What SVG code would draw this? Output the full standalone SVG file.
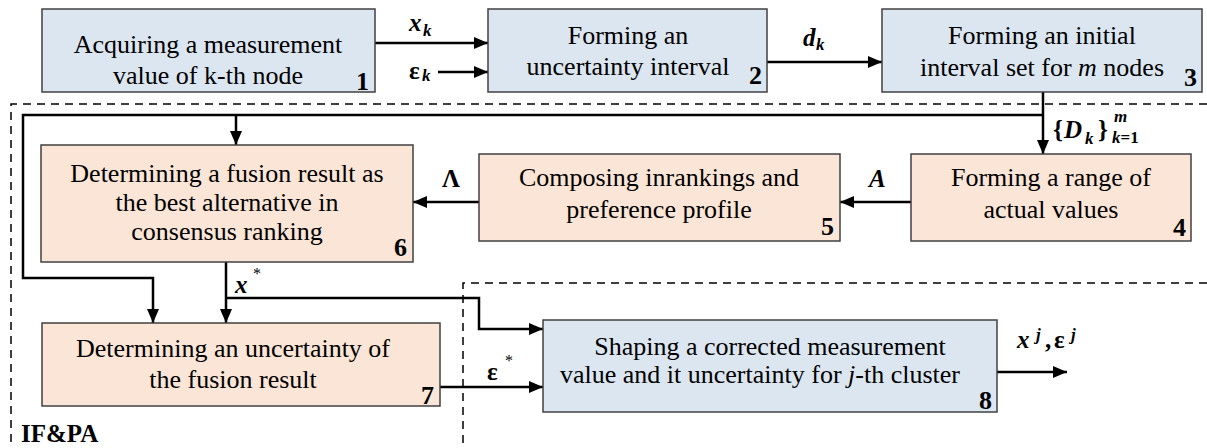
<svg xmlns="http://www.w3.org/2000/svg" width="1207" height="448" viewBox="0 0 1207 448">
<defs>
<style>
text{font-family:'Liberation Serif','Times New Roman','DejaVu Serif',serif}
.blue{fill:#dce6f1;stroke:#404040;stroke-width:1.5}
.orange{fill:#fbe5d6;stroke:#404040;stroke-width:1.5}
.t{font-size:26px;fill:#000;text-anchor:middle}
.n{font-size:26px;font-weight:bold;fill:#000;text-anchor:end}
.lb{font-size:25px;font-weight:bold;fill:#000}
.s{font-size:17px;font-weight:bold;fill:#000}
.it{font-style:italic}
.c{fill:none;stroke:#000;stroke-width:2.5}
.d{fill:none;stroke:#000;stroke-width:1.5;stroke-dasharray:8 6}
</style>
<marker id="ah" viewBox="0 0 14 12" refX="14" refY="6" markerWidth="14" markerHeight="12" markerUnits="userSpaceOnUse" orient="auto">
<path d="M0,0 L14,6 L0,12 Z" fill="#000"/>
</marker>
</defs>
<g id="regions">
<path class="d" d="M1207,104 H11 V448"/>
<path class="d" d="M1207,283 H463 V448"/>
</g>
<g id="connectors">
<path class="c" d="M375,43 H488" marker-end="url(#ah)"/>
<path class="c" d="M438,72 H488" marker-end="url(#ah)"/>
<path class="c" d="M767,62 H882" marker-end="url(#ah)"/>
<path class="c" d="M1043,92 V154" marker-end="url(#ah)"/>
<path class="c" d="M1043,115 H23 V278 H153 V323" marker-end="url(#ah)"/>
<path class="c" d="M236,115 V145" marker-end="url(#ah)"/>
<path class="c" d="M911,202 H840" marker-end="url(#ah)"/>
<path class="c" d="M479,202 H413" marker-end="url(#ah)"/>
<path class="c" d="M226,262 V323" marker-end="url(#ah)"/>
<path class="c" d="M226,298 H479 V329 H543" marker-end="url(#ah)"/>
<path class="c" d="M440,387 H543" marker-end="url(#ah)"/>
<path class="c" d="M997,372 H1067" marker-end="url(#ah)"/>
<text class="lb it" x="409" y="31">x</text><text class="s it" x="423" y="36">k</text>
<text class="lb" x="409" y="79">ε</text><text class="s it" x="422" y="81">k</text>
<text class="lb it" x="803" y="46">d</text><text class="s it" x="816" y="50">k</text>
<text class="lb" x="1053" y="138">{</text>
<text class="lb it" x="1064" y="138" font-size="27">D</text>
<text class="s it" x="1085" y="144">k</text>
<text class="lb" x="1098" y="138">}</text>
<text class="s it" x="1114" y="122">m</text>
<text class="s" x="1112" y="143"><tspan class="it">k</tspan>=1</text>
<text class="lb" x="442" y="187">Λ</text>
<text class="lb it" x="869" y="187">A</text>
<text class="lb it" x="235" y="293">x</text>
<text x="253" y="279" font-size="16" fill="#000">*</text>
<text class="lb" x="487" y="380">ε</text>
<text x="505" y="366" font-size="16" fill="#000">*</text>
<text class="lb it" x="1017" y="348">x</text>
<text class="s it" x="1036" y="340">j</text>
<text class="lb" x="1045" y="348">,</text>
<text class="lb" x="1054" y="348">ε</text>
<text class="s it" x="1071" y="340">j</text>
</g>
<g id="node1">
<rect class="blue" x="42" y="9" width="333" height="83"/>
<text class="t" x="208" y="53">Acquiring a measurement</text>
<text class="t" x="208" y="84">value of k-th node</text>
<text class="n" x="369" y="90">1</text>
</g>
<g id="node2">
<rect class="blue" x="488" y="9" width="279" height="83"/>
<text class="t" x="628" y="44">Forming an</text>
<text class="t" x="628" y="75">uncertainty interval</text>
<text class="n" x="762" y="84">2</text>
</g>
<g id="node3">
<rect class="blue" x="882" y="9" width="320" height="83"/>
<text class="t" x="1042" y="44">Forming an initial</text>
<text class="t" x="1042" y="76">interval set for <tspan font-style="italic">m</tspan> nodes</text>
<text class="n" x="1197" y="86">3</text>
</g>
<g id="node4">
<rect class="orange" x="911" y="154" width="280" height="87"/>
<text class="t" x="1051" y="186">Forming a range of</text>
<text class="t" x="1051" y="218">actual values</text>
<text class="n" x="1186" y="236">4</text>
</g>
<g id="node5">
<rect class="orange" x="479" y="154" width="361" height="87"/>
<text class="t" x="659" y="186">Composing inrankings and</text>
<text class="t" x="659" y="218">preference profile</text>
<text class="n" x="834" y="235">5</text>
</g>
<g id="node6">
<rect class="orange" x="41" y="145" width="372" height="117"/>
<text class="t" x="227" y="182">Determining a fusion result as</text>
<text class="t" x="227" y="211">the best alternative in</text>
<text class="t" x="227" y="240">consensus ranking</text>
<text class="n" x="407" y="256">6</text>
</g>
<g id="node7">
<rect class="orange" x="42" y="323" width="398" height="83"/>
<text class="t" x="233" y="357">Determining an uncertainty of</text>
<text class="t" x="233" y="388">the fusion result</text>
<text class="n" x="434" y="404">7</text>
</g>
<g id="node8">
<rect class="blue" x="543" y="320" width="454" height="92"/>
<text class="t" x="770" y="355">Shaping a corrected measurement</text>
<text class="t" x="760" y="383">value and it uncertainty for <tspan font-style="italic">j</tspan>-th cluster</text>
<text class="n" x="992" y="409">8</text>
</g>
<g id="label">
<text class="lb" x="21" y="442">IF&amp;PA</text>
</g>
</svg>
